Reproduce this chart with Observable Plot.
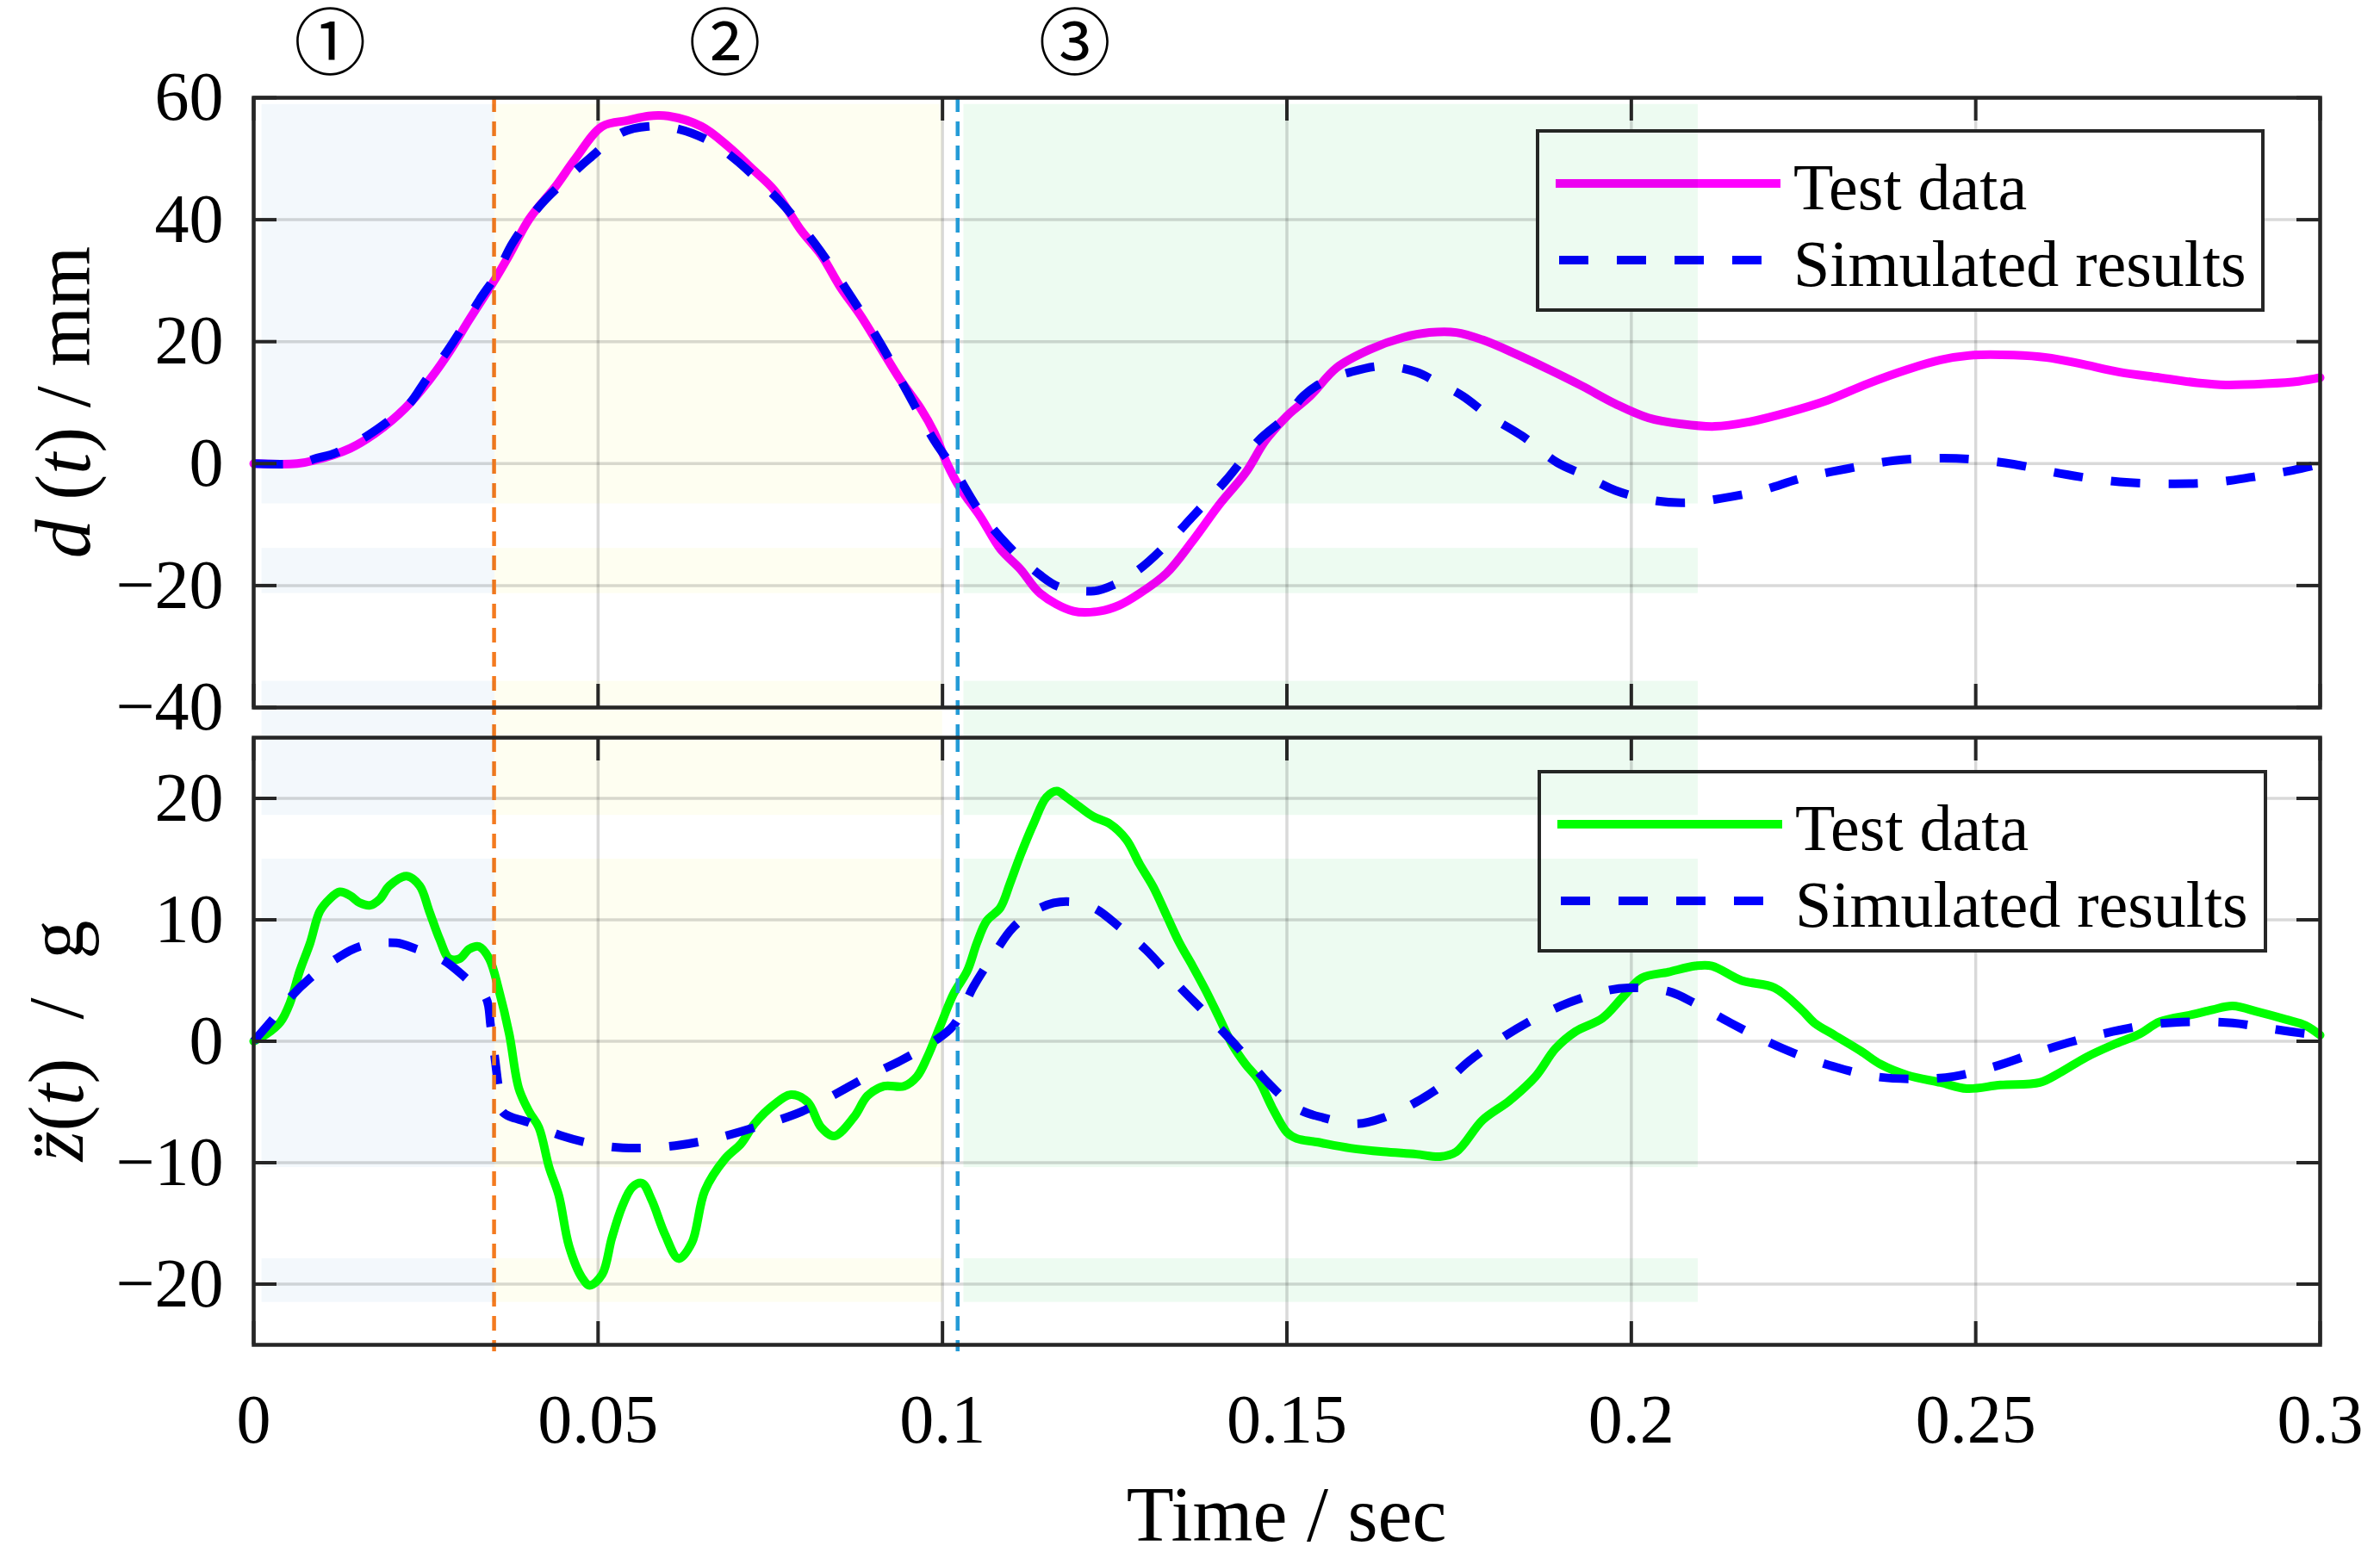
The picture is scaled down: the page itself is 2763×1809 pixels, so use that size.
<!DOCTYPE html>
<html>
<head>
<meta charset="utf-8">
<script src="https://cdn.jsdelivr.net/npm/d3@7"></script>
<script src="https://cdn.jsdelivr.net/npm/@observablehq/plot@0.6"></script>
<style>
html,body{margin:0;padding:0;background:#fff;overflow:hidden;}
#chart{position:relative;width:2763px;height:1809px;background:#fff;}
#chart svg{position:absolute;left:0;top:0;}
#chart svg text{font-family:"Liberation Serif","Times New Roman","Noto Sans CJK JP",serif !important;font-variant-numeric:normal !important;}
</style>
</head>
<body>
<div id="chart"></div>
<script>
// ---------------- data ----------------
const xTicks = [0, 0.05, 0.1, 0.15, 0.2, 0.25, 0.3];
const xTickLabels = ["0", "0.05", "0.1", "0.15", "0.2", "0.25", "0.3"];
const yTicksTop = [-40, -20, 0, 20, 40, 60];
const yTickLabelsTop = ["\u221240", "\u221220", "0", "20", "40", "60"];
const yTicksBottom = [-20, -10, 0, 10, 20];
const yTickLabelsBottom = ["\u221220", "\u221210", "0", "10", "20"];

// displacement d(t), mm — test data
const topTestT = [0, 0.0063, 0.0087, 0.014, 0.0178, 0.022, 0.0255, 0.0284, 0.0313, 0.0347, 0.0371, 0.04, 0.0438, 0.0467, 0.0506, 0.0544, 0.0573, 0.0602, 0.065, 0.0689, 0.0727, 0.0756, 0.0795, 0.0824, 0.0852, 0.0881, 0.091, 0.0939, 0.0968, 0.0988, 0.1007, 0.1026, 0.1055, 0.1084, 0.1113, 0.1142, 0.119, 0.1228, 0.1257, 0.1286, 0.1325, 0.1363, 0.1402, 0.144, 0.1469, 0.15, 0.1534, 0.1572, 0.162, 0.1669, 0.1707, 0.1746, 0.1784, 0.1832, 0.1881, 0.1929, 0.1977, 0.2025, 0.2073, 0.2121, 0.2169, 0.2227, 0.2285, 0.2343, 0.24, 0.2449, 0.2497, 0.2555, 0.2603, 0.2651, 0.2709, 0.2767, 0.2825, 0.2863, 0.2921, 0.2969, 0.3];
const topTestV = [0, 0, 0.5, 2.5, 5.1, 9.1, 13.7, 18.3, 23.6, 29.6, 34.2, 40.1, 45.4, 50, 55.3, 56.3, 57, 57, 55.3, 52, 48, 44.8, 38.2, 34.2, 28.9, 24.3, 19, 13.7, 9.1, 5.1, -0.1, -4.1, -8.7, -14, -17.3, -21.3, -24.2, -24.2, -23.2, -21.3, -18, -12.7, -6.7, -1.5, 3.8, 7.8, 11.1, 15.7, 18.7, 20.7, 21.5, 21.5, 20.3, 18, 15.4, 12.7, 9.8, 7.5, 6.5, 6.1, 6.8, 8.4, 10.4, 13.1, 15.4, 17, 17.8, 17.8, 17.4, 16.4, 15, 14.1, 13.2, 12.9, 13.1, 13.5, 14.1];
// displacement d(t), mm — simulated
const topSimT = [0, 0.0063, 0.0092, 0.012, 0.0164, 0.0197, 0.0226, 0.025, 0.028, 0.0303, 0.0328, 0.0352, 0.0376, 0.0414, 0.0448, 0.0487, 0.0535, 0.0573, 0.0612, 0.066, 0.0698, 0.0737, 0.0766, 0.0814, 0.0862, 0.091, 0.0949, 0.0988, 0.1016, 0.1055, 0.1094, 0.1142, 0.1171, 0.122, 0.1248, 0.1286, 0.1325, 0.1363, 0.1411, 0.1459, 0.15, 0.1524, 0.1553, 0.1592, 0.164, 0.1688, 0.1717, 0.1755, 0.1794, 0.1842, 0.1892, 0.193, 0.1977, 0.2035, 0.2083, 0.2131, 0.2189, 0.2247, 0.2315, 0.2382, 0.2449, 0.2497, 0.2555, 0.2632, 0.2709, 0.2786, 0.2844, 0.2902, 0.296, 0.3];
const topSimV = [0, 0, 0.9, 1.8, 4.5, 7.1, 9.8, 13.7, 18.3, 22.3, 26.9, 30.9, 36.2, 42.1, 46, 50, 54.3, 55.3, 55, 53, 50, 46, 42.8, 36.2, 28.3, 19.7, 11.7, 3.8, -0.8, -8, -13.3, -18.3, -20.3, -20.9, -19.9, -17.3, -13.3, -8.7, -2.8, 3.8, 7.8, 11.1, 13.4, 15, 16, 15, 13.4, 11.1, 7.8, 4.5, 0.2, -1.8, -4.4, -6.1, -6.4, -5.7, -4.4, -2.4, -0.8, 0.5, 0.9, 0.7, -0.1, -1.8, -3, -3.3, -3.1, -2.2, -1.1, -0.1];

// acceleration z''(t), g — test data
const botTestT = [0, 0.0019, 0.0039, 0.0053, 0.0067, 0.0082, 0.0096, 0.011, 0.0125, 0.014, 0.0154, 0.0169, 0.0183, 0.0197, 0.0222, 0.0241, 0.0255, 0.027, 0.0284, 0.0299, 0.0313, 0.0327, 0.0342, 0.0356, 0.0371, 0.0385, 0.04, 0.0414, 0.0429, 0.0443, 0.0458, 0.0477, 0.0488, 0.0506, 0.052, 0.0535, 0.055, 0.0564, 0.0578, 0.0597, 0.0617, 0.0636, 0.0655, 0.0684, 0.0708, 0.0727, 0.0756, 0.078, 0.0804, 0.0824, 0.0843, 0.0872, 0.0891, 0.0915, 0.0944, 0.0963, 0.0978, 0.0997, 0.1016, 0.1036, 0.105, 0.1064, 0.1084, 0.1098, 0.1113, 0.1132, 0.1151, 0.1166, 0.118, 0.1199, 0.1219, 0.1243, 0.1267, 0.1286, 0.1306, 0.1325, 0.1344, 0.1363, 0.1382, 0.1402, 0.1421, 0.144, 0.1459, 0.1479, 0.15,
  0.1514, 0.1543, 0.1592, 0.164, 0.1688, 0.1722, 0.1746, 0.1784, 0.1823, 0.1861, 0.189, 0.1919, 0.1958, 0.1987, 0.2015, 0.2054, 0.2093, 0.2117, 0.216, 0.2208, 0.2247, 0.2266, 0.2295, 0.2333, 0.2362, 0.2401, 0.2449, 0.2487, 0.2536, 0.2593, 0.2622, 0.2661, 0.2699, 0.2738, 0.2767, 0.2815, 0.2844, 0.2873, 0.2911, 0.295, 0.2979, 0.3];
const botTestV = [0, 0.6, 1.6, 3.2, 5.8, 8.1, 10.7, 11.7, 12.3, 12, 11.4, 11.2, 11.7, 12.8, 13.6, 12.8, 10.7, 8.4, 6.8, 6.8, 7.6, 7.8, 6.8, 4.2, 0.6, -3.9, -5.8, -7.1, -10.4, -12.7, -16.9, -19.5, -20.1, -19.2, -16.2, -13.6, -12, -11.7, -13.1, -15.9, -17.9, -16.6, -12.3, -9.7, -8.4, -6.8, -5.2, -4.4, -5, -7.1, -7.8, -6.2, -4.5, -3.7, -3.7, -2.9, -1.3, 1.3, 3.9, 5.8, 8.1, 9.9, 11, 13, 15.3, 17.9, 20.1, 20.6, 20.1, 19.3, 18.5, 17.9, 16.6, 14.6, 12.7, 10.4, 8.1, 6.2, 4.2, 1.9, -0.3, -1.9, -3.2, -5.5, -7.5,
  -8, -8.3, -8.8, -9.1, -9.3, -9.5, -9.1, -6.5, -4.9, -2.9, -0.6, 0.8, 1.9, 3.6, 5.2, 5.7, 6.2, 6.2, 5, 4.4, 2.6, 1.5, 0.5, -0.8, -1.9, -2.8, -3.4, -3.9, -3.6, -3.4, -2.6, -1.3, -0.3, 0.6, 1.6, 2.2, 2.6, 2.9, 2.4, 1.8, 1.3, 0.5];
// acceleration z''(t), g — simulated
const botSimT = [0, 0.0029, 0.0053, 0.0082, 0.012, 0.0154, 0.0207, 0.0236, 0.0275, 0.0308, 0.0337, 0.0344, 0.035, 0.0355, 0.0361, 0.04, 0.0448, 0.0506, 0.0554, 0.0612, 0.067, 0.0727, 0.0795, 0.0843, 0.0891, 0.0939, 0.0988, 0.1016, 0.1045, 0.1074, 0.1103, 0.1142, 0.118, 0.1219, 0.1257, 0.1296, 0.1344, 0.1382, 0.143, 0.1469, 0.1514, 0.1553, 0.1601, 0.164, 0.1688, 0.1726, 0.1765, 0.1813, 0.1861, 0.191, 0.1967, 0.1996, 0.2054, 0.2093, 0.2141, 0.2189, 0.2237, 0.2295, 0.2353, 0.241, 0.2468, 0.2526, 0.2584, 0.2642, 0.2699, 0.2757, 0.2815, 0.2873, 0.2921, 0.2969, 0.3];
const botSimV = [0, 1.9, 3.6, 5.2, 6.8, 7.8, 8.1, 7.6, 6.7, 5.2, 3.6, 1.3, -1.3, -3.6, -5.8, -6.7, -7.8, -8.6, -8.8, -8.6, -8, -7.1, -5.8, -4.4, -2.9, -1.6, 0, 1.3, 4.5, 7.1, 9.4, 11, 11.5, 11, 9.4, 7.5, 4.5, 2.3, -0.6, -3.2, -5.5, -6.3, -6.8, -6.3, -5, -3.6, -1.6, 0.3, 1.9, 3.2, 4.2, 4.4, 4.1, 3.1, 1.6, 0.2, -1, -2.1, -2.9, -3.1, -2.9, -2.1, -1, 0, 0.8, 1.4, 1.6, 1.5, 1.1, 0.7, 0.5];

// phase regions (shaded) and phase dividers
const regionStart = [0.0012, 0.035, 0.1031];
const regionEnd = [0.035, 0.1, 0.2097];
const regionFill = ["#f3f8fc", "#fefef1", "#edfbf1"];
const topBandHi = [58.9, -13.9, -35.7];
const topBandLo = [-6.6, -21.3, -40];
const botBandHi = [25, 15, -17.9];
const botBandLo = [18.6, -10.4, -21.5];
const dividerX = [0.0349, 0.1022];
const dividerColor = ["#f47a1f", "#249bd6"];
const phaseLabels = ["\u2460", "\u2461", "\u2462"];
const phaseX = [0.0111, 0.0684, 0.1192];

const legendLabels = ["Test data", "Simulated results"];
const xLabel = "Time / sec";
const yLabelTop = [{s: "d", it: true}, {s: " (", it: false}, {s: "t", it: true}, {s: ") / mm", it: false}];
const yLabelBottom = [{s: "z\u0308", it: true}, {s: "(", it: false}, {s: "t", it: true}, {s: ")  /  g", it: false}];

// ---------------- layout ----------------
const W = 2763, H = 1809, ML = 294, MR = 70;
const TOP_T = 113, TOP_B = 821, BOT_T = 856, BOT_B = 1561;
const FONT = '"Liberation Serif","Times New Roman",serif';
const TICK = 27, FRAME_W = W - ML - MR;
const GAP = BOT_T - TOP_B;
const AXIS_COLOR = "#262626";
const SIM_DASH = "34,33";
const LINE_W = 10;

const rows = (ts, vs) => ts.map((t, i) => ({t, v: vs[i]}));
const regions = regionStart.map((s, i) => ({x1: s, x2: regionEnd[i], fill: regionFill[i]}));
const bandRects = (hi, lo) => d3.cross(regions, hi.map((h, j) => ({y1: h, y2: lo[j], j})), (r, b) => ({...r, ...b}));

function commonMarks(yTicks, yLabels, frameH) {
  return [
    Plot.frame({stroke: AXIS_COLOR, strokeWidth: 4.5}),
    Plot.ruleX(xTicks, {x: d => d, stroke: AXIS_COLOR, strokeWidth: 4, insetBottom: frameH - TICK}),
    Plot.ruleX(xTicks, {x: d => d, stroke: AXIS_COLOR, strokeWidth: 4, insetTop: frameH - TICK}),
    Plot.ruleY(yTicks, {y: d => d, stroke: AXIS_COLOR, strokeWidth: 4, insetRight: FRAME_W - TICK}),
    Plot.ruleY(yTicks, {y: d => d, stroke: AXIS_COLOR, strokeWidth: 4, insetLeft: FRAME_W - TICK}),
    Plot.axisY(yTicks, {tickSize: 0, tickPadding: 35, fontFamily: FONT, fontSize: 80, fill: "#000",
      tickFormat: d => yLabels[yTicks.indexOf(d)]})
  ];
}
const gridMarks = (yTicks) => [
  Plot.gridX(xTicks, {stroke: "#000", strokeOpacity: 0.15, strokeWidth: 3.5}),
  Plot.gridY(yTicks, {stroke: "#000", strokeOpacity: 0.15, strokeWidth: 3.5})
];

const style = {fontFamily: FONT, fontSize: "80px", background: "transparent", overflow: "visible", color: "#000"};

// ---------------- top panel ----------------
const topBands = bandRects(topBandHi, topBandLo);
const topPlot = Plot.plot({
  width: W, height: H,
  marginLeft: ML, marginRight: MR, marginTop: TOP_T, marginBottom: H - TOP_B,
  style,
  x: {domain: [0, 0.3], axis: null},
  y: {domain: [-40, 60], axis: null},
  color: {type: "identity"},
  marks: [
    ...gridMarks(yTicksTop),
    Plot.line(rows(topTestT, topTestV), {x: "t", y: "v", stroke: "#ff00ff", strokeWidth: LINE_W, curve: "catmull-rom"}),
    Plot.line(rows(topSimT, topSimV), {x: "t", y: "v", stroke: "#0000ff", strokeWidth: LINE_W, strokeDasharray: SIM_DASH, strokeLinecap: "butt", curve: "catmull-rom"}),
    Plot.ruleX(dividerX, {x: d => d, stroke: (d, i) => dividerColor[i], strokeWidth: 4.5, strokeDasharray: "17,11", insetBottom: -GAP}),
    Plot.rect(topBands.filter(d => d.j < 2), {x1: "x1", x2: "x2", y1: "y1", y2: "y2", fill: "fill", mixBlendMode: "multiply"}),
    Plot.rect(topBands.filter(d => d.j === 2), {x1: "x1", x2: "x2", y1: "y1", y2: "y2", fill: "fill", mixBlendMode: "multiply", insetBottom: -GAP}),
    ...commonMarks(yTicksTop, yTickLabelsTop, TOP_B - TOP_T),
    Plot.text(phaseLabels, {x: (d, i) => phaseX[i], frameAnchor: "top", lineAnchor: "middle", dy: -60, text: d => d, fontSize: 84,
      fill: "#000"})
  ]
});

// ---------------- bottom panel ----------------
const botBands = bandRects(botBandHi, botBandLo);
const botPlot = Plot.plot({
  width: W, height: H,
  marginLeft: ML, marginRight: MR, marginTop: BOT_T, marginBottom: H - BOT_B,
  style,
  x: {domain: [0, 0.3], axis: null},
  y: {domain: [-25, 25], axis: null},
  color: {type: "identity"},
  marks: [
    ...gridMarks(yTicksBottom),
    Plot.line(rows(botTestT, botTestV), {x: "t", y: "v", stroke: "#00ff00", strokeWidth: LINE_W, curve: "catmull-rom"}),
    Plot.line(rows(botSimT, botSimV), {x: "t", y: "v", stroke: "#0000ff", strokeWidth: LINE_W, strokeDasharray: SIM_DASH, strokeLinecap: "butt", curve: "catmull-rom"}),
    Plot.ruleX(dividerX, {x: d => d, stroke: (d, i) => dividerColor[i], strokeWidth: 4.5, strokeDasharray: "17,11", insetBottom: -8}),
    Plot.rect(botBands, {x1: "x1", x2: "x2", y1: "y1", y2: "y2", fill: "fill", mixBlendMode: "multiply"}),
    ...commonMarks(yTicksBottom, yTickLabelsBottom, BOT_B - BOT_T),
    Plot.axisX(xTicks, {anchor: "bottom", tickSize: 0, tickPadding: 57, fontFamily: FONT, fontSize: 80, fill: "#000",
      tickFormat: d => xTickLabels[xTicks.indexOf(d)]})
  ]
});

// ---------------- annotations (legends, axis titles) ----------------
function addLegend(svgNode, box, items) {
  const before = svgNode.querySelector('g[aria-label="rect"]');
  const g = d3.create("svg:g").attr("class", "legend").attr("text-anchor", "start");
  g.append("rect").attr("x", box.x).attr("y", box.y).attr("width", box.w).attr("height", box.h)
    .attr("fill", "#fff").attr("stroke", AXIS_COLOR).attr("stroke-width", 4);
  items.forEach((it, i) => {
    const ly = box.y + 61 + i * 89;
    g.append("line").attr("x1", box.x + (it.dash ? 25 : 21)).attr("x2", box.x + (it.dash ? 261 : 282))
      .attr("y1", ly).attr("y2", ly).attr("stroke", it.color).attr("stroke-width", LINE_W)
      .attr("stroke-dasharray", it.dash || null);
    g.append("text").attr("x", box.x + 297).attr("y", ly + 30).attr("font-family", FONT).attr("font-size", 76)
      .attr("text-anchor", "start").attr("fill", "#000").text(it.label);
  });
  svgNode.insertBefore(g.node(), before);
}
function addYLabel(svgNode, x, y, parts) {
  const t = d3.select(svgNode).append("text")
    .attr("transform", `translate(${x},${y}) rotate(-90)`)
    .attr("text-anchor", "middle").attr("font-family", FONT).attr("font-size", 90).attr("fill", "#000")
    .style("white-space", "pre");
  parts.forEach(p => t.append("tspan").attr("font-style", p.it ? "italic" : "normal").text(p.s));
}

addLegend(topPlot, {x: 1785, y: 152, w: 842, h: 208}, [
  {label: legendLabels[0], color: "#ff00ff"},
  {label: legendLabels[1], color: "#0000ff", dash: SIM_DASH}
]);
addLegend(botPlot, {x: 1787, y: 896, w: 843, h: 208}, [
  {label: legendLabels[0], color: "#00ff00"},
  {label: legendLabels[1], color: "#0000ff", dash: SIM_DASH}
]);
addYLabel(topPlot, 104, (TOP_T + TOP_B) / 2, yLabelTop);
addYLabel(botPlot, 96, (BOT_T + BOT_B) / 2, yLabelBottom);
d3.select(botPlot).append("text")
  .attr("x", ML + FRAME_W / 2).attr("y", 1789).attr("text-anchor", "middle")
  .attr("font-family", FONT).attr("font-size", 90).attr("fill", "#000").text(xLabel);

const chart = document.getElementById("chart");
chart.appendChild(topPlot);
chart.appendChild(botPlot);
</script>
</body>
</html>
